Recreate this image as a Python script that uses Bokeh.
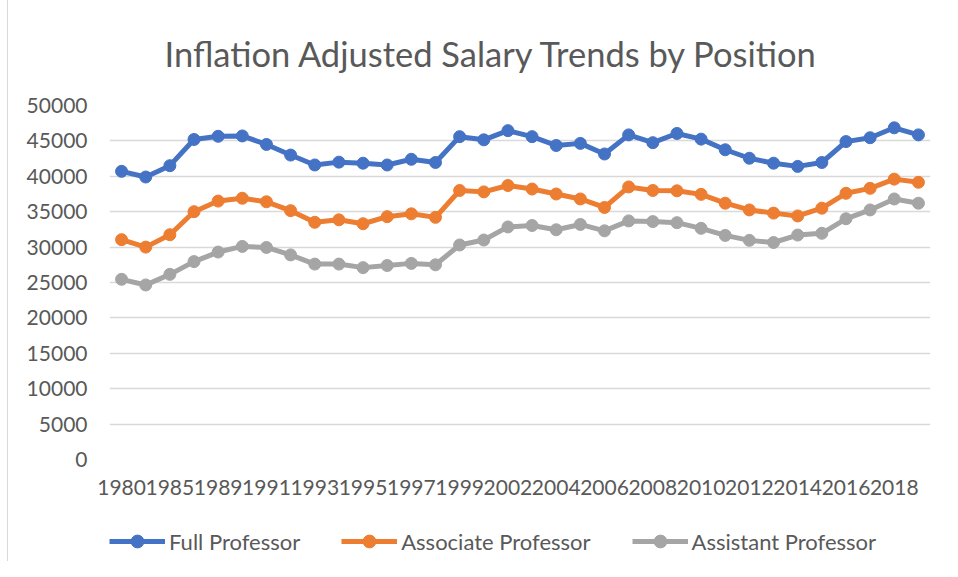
from bokeh.plotting import figure
from bokeh.layouts import column
from bokeh.models import (Range1d, FixedTicker, Legend, LegendItem)
from bokeh.embed import file_html
from bokeh.resources import INLINE

years = [1980, 1982, 1985, 1987, 1989, 1990, 1991, 1992, 1993, 1994, 1995, 1996,
         1997, 1998, 1999, 2000, 2002, 2003, 2004, 2005, 2006, 2007, 2008, 2009,
         2010, 2011, 2012, 2013, 2014, 2015, 2016, 2017, 2018, 2019]

full_prof = [40700, 39900, 41500, 45200, 45650, 45700, 44500, 43000, 41600, 42000,
             41850, 41600, 42400, 41950, 45600, 45150, 46450, 45600, 44350, 44650,
             43150, 45850, 44750, 46050, 45250, 43750, 42550, 41850, 41400, 41950,
             44900, 45450, 46850, 45850]

assoc_prof = [31050, 30000, 31750, 35000, 36500, 36900, 36400, 35150, 33500, 33850,
              33300, 34300, 34700, 34200, 38000, 37800, 38700, 38200, 37500, 36800,
              35600, 38500, 38000, 37950, 37450, 36200, 35250, 34800, 34400, 35500,
              37600, 38300, 39600, 39150]

asst_prof = [25450, 24650, 26150, 27950, 29300, 30100, 29950, 28900, 27600, 27600,
             27100, 27400, 27700, 27500, 30300, 31000, 32850, 33050, 32450, 33200,
             32300, 33700, 33600, 33450, 32650, 31650, 30950, 30650, 31700, 31950,
             34000, 35250, 36800, 36200]

series_names = ["Full Professor", "Associate Professor", "Assistant Professor"]
series_values = [full_prof, assoc_prof, asst_prof]
colors = ["#4472C4", "#ED7D31", "#A5A5A5"]

y_ticks = list(range(0, 50001, 5000))
title_text = "Inflation Adjusted Salary Trends by Position"

FONT = "Lato"
TXT = "#595959"
SIDE = {"margin-left": "7px", "border-left": "1px solid #D9D9D9"}

idx = list(range(len(years)))

p = figure(frame_width=820, frame_height=354,
           min_border_left=101, min_border_right=27,
           min_border_top=104, min_border_bottom=62,
           x_range=Range1d(-0.5, len(years) - 0.5),
           y_range=Range1d(0, 50000),
           output_backend="svg", toolbar_location=None,
           background_fill_color="white", border_fill_color="white")
p.styles = SIDE
p.outline_line_color = None

# title
p.title.text = title_text
p.title.align = "left"
p.title.offset = 55
p.title.standoff = 62
p.title.vertical_align = "middle"
p.title.text_font = FONT
p.title.text_font_size = "34.5px"
p.title.text_font_style = "normal"
p.title.text_color = TXT

# axes
p.xaxis.ticker = FixedTicker(ticks=idx[::2])
p.xaxis.major_label_overrides = {i: str(years[i]) for i in idx[::2]}
p.yaxis.ticker = FixedTicker(ticks=y_ticks)
for ax in (p.xaxis, p.yaxis):
    ax.axis_line_color = None
    ax.major_tick_line_color = None
    ax.minor_tick_line_color = None
    ax.major_tick_in = 0
    ax.major_tick_out = 0
    ax.major_label_text_font = FONT
    ax.major_label_text_font_size = "21px"
    ax.major_label_text_color = TXT
p.yaxis.major_label_standoff = 22
p.xaxis.major_label_standoff = 20

p.xgrid.grid_line_color = None
p.ygrid.ticker = FixedTicker(ticks=y_ticks)
p.ygrid.grid_line_color = "#D9D9D9"
p.ygrid.grid_line_width = 1.5

for vals, c in zip(series_values, colors):
    p.line(idx, vals, line_color=c, line_width=5)
    p.scatter(idx, vals, size=12, fill_color=c, line_color=c)

# legend strip below the chart (its renderers reuse the series, out of view)
leg = figure(frame_width=820, frame_height=40,
             min_border_left=101, min_border_right=27,
             min_border_top=0, min_border_bottom=0,
             x_range=Range1d(0, 1), y_range=Range1d(0, 1),
             x_axis_type=None, y_axis_type=None,
             output_backend="svg", toolbar_location=None,
             background_fill_color="white", border_fill_color="white")
leg.styles = SIDE
leg.outline_line_color = None
leg.grid.visible = False

items = []
for name, vals, c in zip(series_names, series_values, colors):
    lr = leg.line(idx, vals, line_color=c, line_width=5)
    sr = leg.scatter(idx, vals, size=12, fill_color=c, line_color=c)
    items.append(LegendItem(label=name, renderers=[lr, sr]))

legend = Legend(items=items, orientation="horizontal", location="left",
                glyph_width=56, glyph_height=32, label_standoff=4, spacing=41,
                padding=0, margin=0, border_line_color=None,
                background_fill_alpha=0,
                label_text_font=FONT, label_text_font_size="22px",
                label_text_color=TXT)
leg.add_layout(legend, "center")

layout = column(p, leg, spacing=0)
open("out.html", "w").write(file_html(layout, INLINE))
